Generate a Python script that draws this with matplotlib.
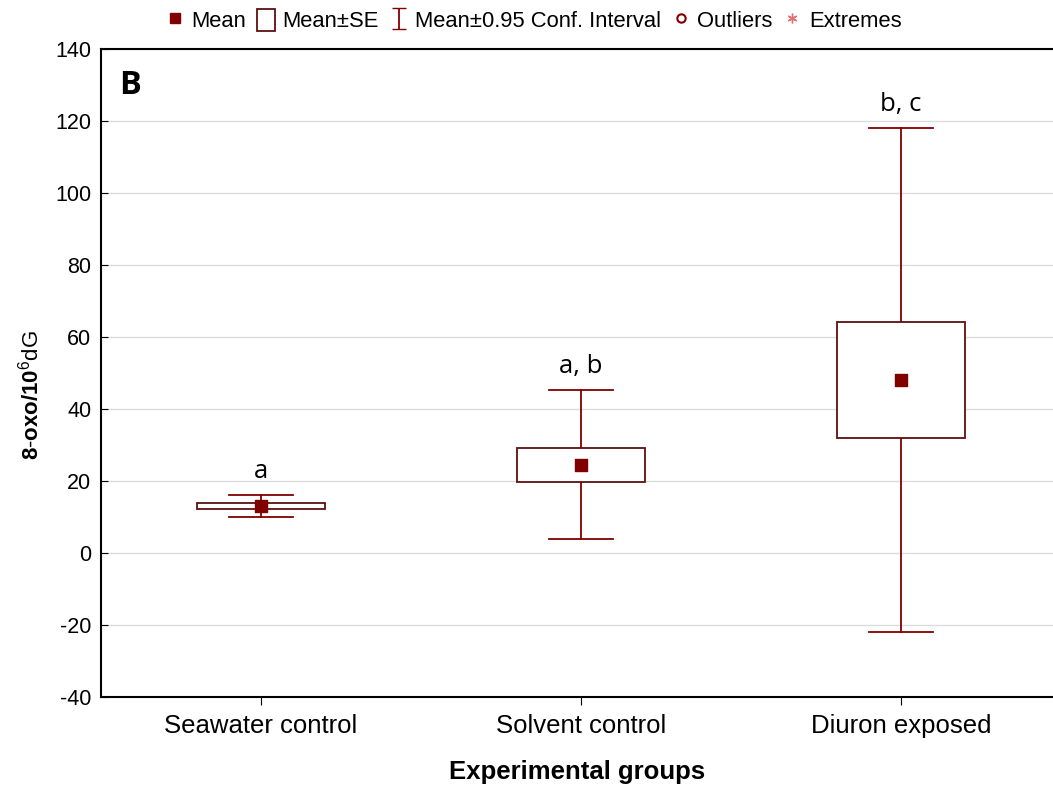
import numpy as np
import matplotlib
matplotlib.use('Agg')
import matplotlib.pyplot as plt
from matplotlib.lines import Line2D
from matplotlib.patches import Rectangle

plt.rcParams.update({
    'font.family': ['Liberation Sans', 'DejaVu Sans'],
    'mathtext.fontset': 'custom',
    'mathtext.rm': 'Liberation Sans',
    'mathtext.bf': 'Liberation Sans:bold',
    'axes.unicode_minus': False,
    'figure.dpi': 100,
    'savefig.dpi': 100,
})

# data
groups = ['Seawater control', 'Solvent control', 'Diuron exposed']
mean = [13.1, 24.4, 48.1]
se_low = [12.2, 19.7, 31.9]
se_high = [13.9, 29.2, 64.2]
ci_low = [10.0, 3.9, -21.9]
ci_high = [16.1, 45.3, 118.1]
letters = ['a', 'a, b', 'b, c']

red = '#800000'
box_edge = '#5c1010'

fig = plt.figure(figsize=(10.53, 7.89))
ax = fig.add_axes([0.0959, 0.1166, 0.9041, 0.8213])

x = np.arange(len(groups))
box_w = 0.4
cap_w = 0.2

# whiskers (CI) + SE boxes
for i in x:
    ax.plot([i, i], [ci_low[i], ci_high[i]], color=red, lw=1.3, zorder=2)
    ax.plot([i - cap_w / 2, i + cap_w / 2], [ci_high[i], ci_high[i]], color=red, lw=1.3, zorder=2)
    ax.plot([i - cap_w / 2, i + cap_w / 2], [ci_low[i], ci_low[i]], color=red, lw=1.3, zorder=2)
    ax.add_patch(Rectangle((i - box_w / 2, se_low[i]), box_w, se_high[i] - se_low[i],
                           facecolor='white', edgecolor=box_edge, lw=1.3, zorder=3))
    ax.text(i, ci_high[i] + 4.6, letters[i], ha='center', va='baseline', fontsize=18.5,
            family=['Open Sans', 'DejaVu Sans'])

ax.scatter(x, mean, marker='s', s=70, color=red, zorder=4)

ax.set_xlim(-0.5, 2.475)
ax.set_ylim(-40, 140)
ax.set_yticks(np.arange(-40, 141, 20))
ax.set_xticks(x)
ax.set_xticklabels(groups)
ax.yaxis.grid(True, color='#dcdcdc', lw=1)
ax.set_axisbelow(True)
ax.tick_params(axis='y', direction='in', length=5, labelsize=15.5, pad=7)
ax.tick_params(axis='x', direction='out', length=6, labelsize=18.5, pad=6)
ax.spines['right'].set_visible(False)
for s in ['left', 'top', 'bottom']:
    ax.spines[s].set_linewidth(1.5)

ax.set_xlabel('Experimental groups', fontsize=18.5, fontweight='bold', labelpad=16)
ax.set_ylabel(r'$\mathbf{8{\text{-}}oxo/10}^{6}$dG', fontsize=16)
ax.yaxis.set_label_coords(-0.06, 0.466)

ax.text(0.019, 0.969, 'B', transform=ax.transAxes, fontsize=23.5, fontweight='bold',
        va='top', family=['Open Sans', 'DejaVu Sans'])

# legend
eb = ax.errorbar([np.nan], [np.nan], yerr=[1], fmt='none', ecolor=red, capsize=5, elinewidth=1.3)
handles = [
    Line2D([], [], marker='s', color=red, ls='none', markersize=7),
    Rectangle((0, 0), 1, 1, facecolor='white', edgecolor=box_edge, lw=1.3),
    eb,
    Line2D([], [], marker='o', markerfacecolor='white', markeredgecolor=red,
           markeredgewidth=1.5, ls='none', markersize=6),
    Line2D([], [], marker=(6, 2, 0), color='#e07070', ls='none', markersize=7),
]
labels = ['Mean', 'Mean±SE', 'Mean±0.95 Conf. Interval', 'Outliers', 'Extremes']
fig.legend(handles, labels, loc='upper center', bbox_to_anchor=(0.507, 1.013), ncol=5,
           frameon=False, fontsize=15.8, handlelength=0.8, handleheight=1.1,
           handletextpad=0.35, columnspacing=0.5)

fig.savefig('out.png')
